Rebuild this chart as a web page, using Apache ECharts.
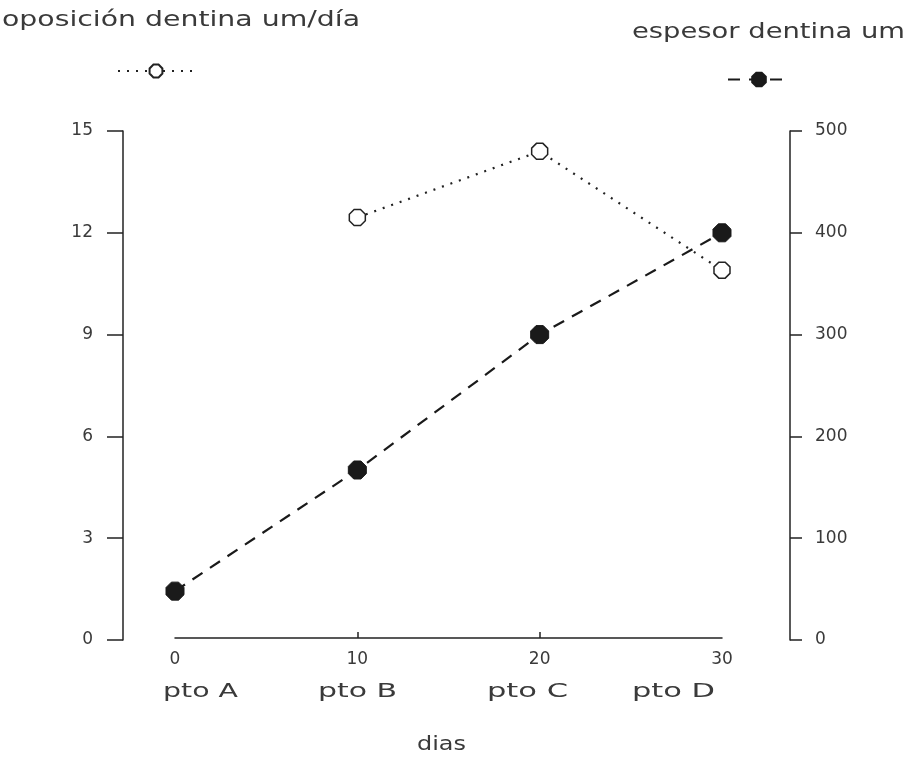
<!DOCTYPE html>
<html><head><meta charset="utf-8">
<script src="https://cdn.jsdelivr.net/npm/echarts@6/dist/echarts.min.js"></script>
<style>html,body{margin:0;padding:0;background:#fff}#c{width:911px;height:763px}</style>
</head><body><div id="c"></div>
<script>
// ---- data ----
const days = [0, 10, 20, 30];
const ptoLabels = ['pto A', 'pto B', 'pto C', 'pto D'];
const aposicionName = 'oposición dentina um/día';
const espesorName = 'espesor dentina um';
const aposicionDays = [10, 20, 30];
const aposicion = [12.45, 14.4, 10.9];
const espesor = [48, 167, 300, 400];
const xAxisTitle = 'dias';

// ---- layout ----
const FONT = '"DejaVu Sans", sans-serif';
const INK = '#222';
const TXT = '#3a3a3a';
const octagon = 'path://M30,0 L70,0 L100,30 L100,70 L70,100 L30,100 L0,70 L0,30 Z';

const ctx = document.createElement('canvas').getContext('2d');
function txt(str, x, y, size, targetW, align) {
  const font = size + 'px ' + FONT;
  ctx.font = font;
  const w = ctx.measureText(str).width;
  return {
    type: 'text', x: x, y: y, scaleX: targetW ? targetW / w : 1, silent: true,
    style: { text: str, font: font, fill: TXT, align: align || 'left', verticalAlign: 'middle' }
  };
}
// pto label positions (left edge, width) in pixels
const ptoPos = [[163, 75], [318, 79], [487, 81], [632, 83]];

const chart = echarts.init(document.getElementById('c'));
chart.setOption({
  animation: false,
  backgroundColor: '#fff',
  grid: [
    { left: 123, right: 121, top: 131, bottom: 123 },
    { left: 175, right: 189, top: 131, bottom: 125 }
  ],
  legend: [
    { data: [aposicionName], left: 112, top: 58, itemWidth: 76, itemHeight: 16,
      formatter: () => '', selectedMode: false },
    { data: [espesorName], left: 722, top: 66, itemWidth: 62, itemHeight: 17,
      formatter: () => '', selectedMode: false }
  ],
  xAxis: [
    { type: 'value', gridIndex: 0, min: -2.852, max: 33.73, show: false, splitLine: { show: false } },
    { type: 'value', gridIndex: 1, min: 0, max: 30, interval: 10,
      axisLine: { show: true, onZero: false, lineStyle: { color: INK, width: 1.5 } },
      axisTick: { show: true, inside: true, length: 6, customValues: [10, 20], lineStyle: { color: INK, width: 1.5 } },
      axisLabel: { margin: 13, fontSize: 17, fontFamily: FONT, color: TXT },
      splitLine: { show: false } }
  ],
  yAxis: [
    { type: 'value', gridIndex: 0, min: 0, max: 15, interval: 3, position: 'left',
      axisLine: { show: true, onZero: false, lineStyle: { color: INK, width: 1.5 } },
      axisTick: { show: true, length: 16, lineStyle: { color: INK, width: 1.5 } },
      axisLabel: { margin: 30, fontSize: 17, fontFamily: FONT, color: TXT },
      splitLine: { show: false } },
    { type: 'value', gridIndex: 0, min: 0, max: 500, interval: 100, position: 'right',
      axisLine: { show: true, onZero: false, lineStyle: { color: INK, width: 1.5 } },
      axisTick: { show: true, length: 12, lineStyle: { color: INK, width: 1.5 } },
      axisLabel: { margin: 25, fontSize: 17, fontFamily: FONT, color: TXT },
      splitLine: { show: false } },
    { type: 'value', gridIndex: 1, show: false, min: 0, max: 1 }
  ],
  series: [
    { name: aposicionName, type: 'line', xAxisIndex: 0, yAxisIndex: 0,
      data: aposicionDays.map((d, i) => [d, aposicion[i]]),
      symbol: octagon, symbolSize: 16,
      itemStyle: { color: '#fff', borderColor: INK, borderWidth: 1.5 },
      lineStyle: { color: INK, width: 2.2, type: [2, 7] }, z: 3 },
    { name: espesorName, type: 'line', xAxisIndex: 0, yAxisIndex: 1,
      data: days.map((d, i) => [d, espesor[i]]),
      symbol: octagon, symbolSize: 18,
      itemStyle: { color: '#1a1a1a', borderColor: '#1a1a1a', borderWidth: 1 },
      lineStyle: { color: '#1a1a1a', width: 2.2, type: [12, 9] }, z: 2 }
  ],
  graphic: [
    txt(aposicionName, 2, 20, 22, 358),
    txt(espesorName, 632, 32, 22, 273),
    ...ptoLabels.map((s, i) => txt(s, ptoPos[i][0], 692, 20, ptoPos[i][1])),
    txt(xAxisTitle, 417, 745, 20, 49)
  ]
});
</script></body></html>
